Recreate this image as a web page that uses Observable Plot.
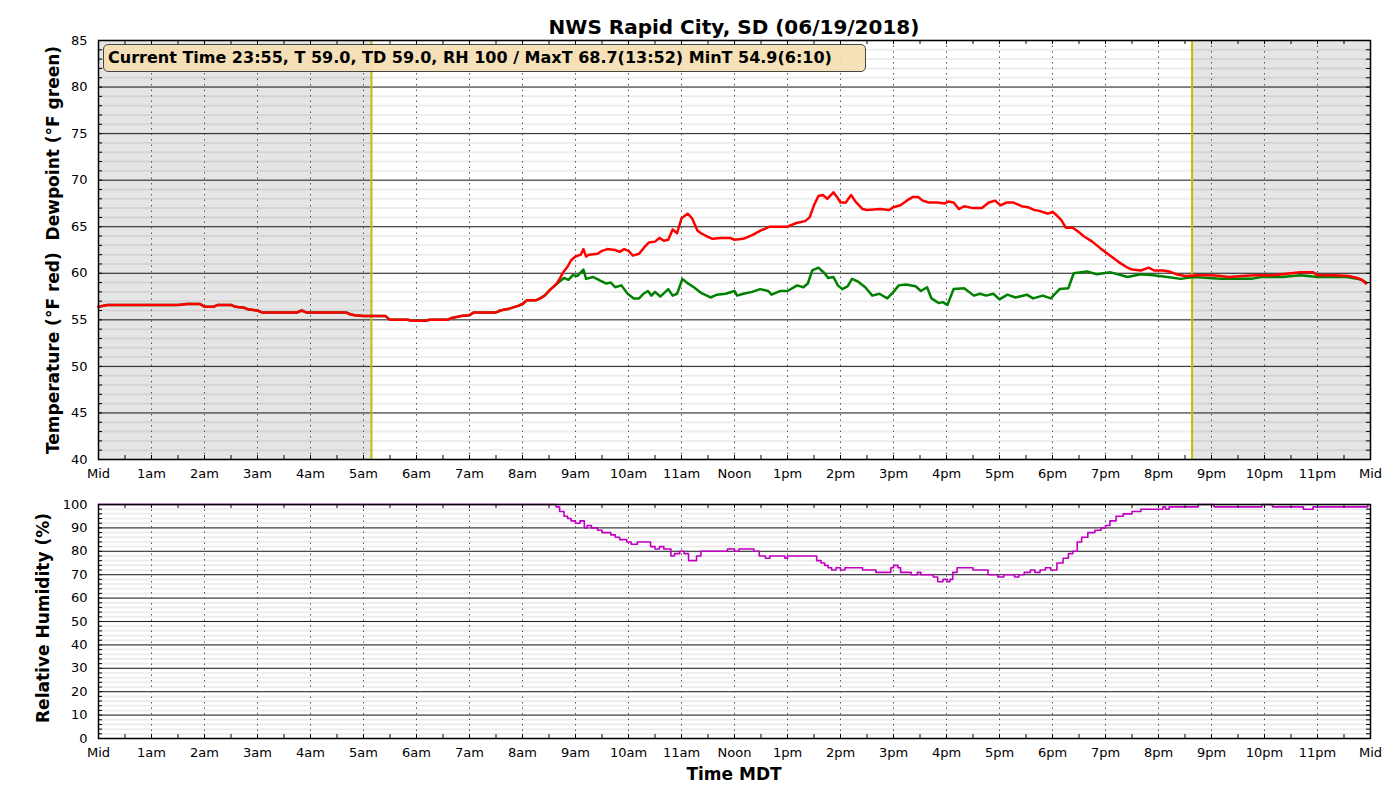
<!DOCTYPE html>
<html><head><meta charset="utf-8">
<script src="https://cdn.jsdelivr.net/npm/d3@7"></script>
<script src="https://cdn.jsdelivr.net/npm/@observablehq/plot@0.6"></script>
<style>
body{margin:0;background:#fff;font-family:"DejaVu Sans",sans-serif;}
#wrap{position:relative;width:1400px;height:800px;overflow:hidden;}
.abs{position:absolute;}
.title{left:98px;width:1272px;top:15px;text-align:center;font-weight:bold;font-size:20px;line-height:24px;}
.ylab{font-weight:bold;font-size:17px;white-space:pre;transform:translate(-50%,-50%) rotate(-90deg);}
.xlab{left:98px;width:1272px;top:764px;text-align:center;font-weight:bold;font-size:17px;}
.note{left:103px;top:44px;width:763px;height:28px;box-sizing:border-box;background:rgba(245,222,179,0.92);border:1.3px solid #444;border-radius:5px;font-weight:bold;font-size:16px;line-height:25px;padding-left:4px;white-space:nowrap;}
</style></head><body><div id="wrap"></div><script>
const hourLabels = ["Mid","1am","2am","3am","4am","5am","6am","7am","8am","9am","10am","11am","Noon","1pm","2pm","3pm","4pm","5pm","6pm","7pm","8pm","9pm","10pm","11pm","Mid"];
const sunrise = "05:09", sunset = "20:38";
const titleText = "NWS Rapid City, SD (06/19/2018)";
const noteText = "Current Time 23:55, T 59.0, TD 59.0, RH 100 / MaxT 68.7(13:52) MinT 54.9(6:10)";

const temperature = [
["00:00",56.4],["00:10",56.6],["00:30",56.6],["01:00",56.6],["01:30",56.6],["01:40",56.7],["01:55",56.7],["02:00",56.4],["02:10",56.4],["02:15",56.6],["02:30",56.6],["02:35",56.4],["02:45",56.3],["02:50",56.1],["03:00",56.0],["03:05",55.8],["03:30",55.8],["03:45",55.8],["03:50",56.0],["03:55",55.8],["04:30",55.8],["04:40",55.8],["04:45",55.6],["04:50",55.5],["05:00",55.4],["05:25",55.4],["05:30",55.0],["05:50",55.0],["05:55",54.9],["06:10",54.9],["06:15",55.0],["06:35",55.0],["06:40",55.2],["06:50",55.4],["07:00",55.5],["07:05",55.8],["07:30",55.8],["07:35",56.0],["07:40",56.1],["07:45",56.2],["07:55",56.5],["08:00",56.7],["08:05",57.1],["08:15",57.1],["08:20",57.3],["08:25",57.6],["08:32",58.3],
["08:38",58.8],["08:42",59.4],["08:46",60.1],["08:51",60.7],["08:55",61.4],["09:00",61.8],["09:06",62.0],["09:09",62.6],["09:12",61.8],["09:15",62.0],["09:25",62.1],["09:30",62.4],["09:36",62.6],["09:45",62.5],["09:50",62.3],["09:55",62.6],["10:00",62.4],["10:05",61.9],["10:12",62.1],["10:18",62.8],["10:23",63.3],["10:30",63.4],["10:35",63.8],["10:40",63.5],["10:45",63.6],["10:50",64.7],["10:55",64.3],["11:00",65.9],["11:07",66.4],["11:12",65.9],["11:18",64.6],["11:22",64.3],["11:30",63.9],["11:35",63.7],["11:45",63.8],["11:55",63.8],["12:00",63.6],["12:10",63.7],["12:20",64.1],["12:30",64.6],["12:40",65.0],["12:50",65.0],["13:00",65.0],["13:10",65.4],["13:20",65.6],["13:25",66.0],["13:30",67.3],["13:35",68.3],["13:40",68.4],["13:45",68.0],["13:52",68.7],["13:56",68.2],["14:00",67.6],["14:06",67.6],["14:12",68.4],["14:17",67.7],["14:25",66.9],["14:30",66.8],["14:45",66.9],["14:55",66.8],["15:00",67.1],["15:08",67.3],["15:15",67.8],["15:22",68.2],["15:28",68.2],["15:33",67.8],["15:40",67.6],["15:50",67.6],["15:58",67.5],["16:02",67.7],["16:08",67.6],["16:14",66.9],["16:20",67.2],["16:30",67.0],["16:40",67.0],["16:48",67.6],["16:55",67.8],["17:01",67.3],["17:08",67.6],["17:16",67.6],["17:25",67.2],["17:32",67.1],["17:39",66.8],["17:45",66.7],["17:55",66.4],["18:00",66.6],["18:05",66.2],["18:10",65.7],["18:15",64.9],["18:23",64.9],["18:30",64.4],["18:35",64.0],["18:45",63.4],["18:54",62.7],["19:05",61.9],["19:15",61.2],["19:25",60.6],["19:30",60.4],["19:40",60.3],["19:49",60.6],["19:55",60.3],["20:05",60.3],["20:12",60.2],["20:20",59.9],["20:30",59.7],["20:45",59.8],["21:00",59.8],["21:10",59.7],["21:20",59.6],["21:35",59.7],["21:50",59.8],["22:10",59.8],["22:30",60.0],["22:41",60.1],["22:55",60.1],["23:00",59.8],["23:20",59.8],["23:35",59.7],["23:45",59.5],["23:50",59.3],["23:55",58.9]
];

const dewpoint = [
["00:00",56.4],["00:10",56.6],["00:30",56.6],["01:00",56.6],["01:30",56.6],["01:40",56.7],["01:55",56.7],["02:00",56.4],["02:10",56.4],["02:15",56.6],["02:30",56.6],["02:35",56.4],["02:45",56.3],["02:50",56.1],["03:00",56.0],["03:05",55.8],["03:30",55.8],["03:45",55.8],["03:50",56.0],["03:55",55.8],["04:30",55.8],["04:40",55.8],["04:45",55.6],["04:50",55.5],["05:00",55.4],["05:25",55.4],["05:30",55.0],["05:50",55.0],["05:55",54.9],["06:10",54.9],["06:15",55.0],["06:35",55.0],["06:40",55.2],["06:50",55.4],["07:00",55.5],["07:05",55.8],["07:30",55.8],["07:35",56.0],["07:40",56.1],["07:45",56.2],["07:55",56.5],["08:00",56.7],["08:05",57.1],["08:15",57.1],["08:20",57.3],["08:25",57.6],["08:32",58.3],
["08:38",58.8],["08:43",59.2],["08:47",59.5],["08:52",59.3],["08:57",59.8],["09:02",59.7],["09:09",60.4],["09:12",59.4],["09:20",59.6],["09:28",59.2],["09:35",58.9],["09:40",59.0],["09:45",58.5],["09:52",58.7],["09:59",57.8],["10:06",57.3],["10:12",57.3],["10:17",57.8],["10:22",58.1],["10:26",57.6],["10:30",58.0],["10:36",57.5],["10:45",58.3],["10:50",57.6],["10:55",57.8],["11:01",59.4],["11:06",59.0],["11:14",58.5],["11:22",57.9],["11:33",57.4],["11:40",57.7],["11:50",57.8],["12:00",58.1],["12:03",57.6],["12:10",57.8],["12:20",58.0],["12:29",58.3],["12:38",58.1],["12:42",57.7],["12:52",58.1],["13:00",58.1],["13:11",58.7],["13:18",58.5],["13:23",58.9],["13:28",60.3],["13:35",60.6],["13:42",60.0],["13:46",59.5],["13:52",59.6],["13:57",58.7],["14:02",58.3],["14:08",58.6],["14:13",59.4],["14:20",59.1],["14:28",58.5],["14:36",57.6],["14:44",57.8],["14:53",57.3],["15:00",58.0],["15:06",58.7],["15:14",58.8],["15:25",58.6],["15:31",58.1],["15:38",58.5],["15:43",57.3],["15:51",56.8],["15:56",56.9],["16:01",56.6],["16:08",58.3],["16:20",58.4],["16:31",57.6],["16:38",57.8],["16:45",57.6],["16:53",57.8],["17:00",57.2],["17:09",57.7],["17:18",57.4],["17:31",57.7],["17:38",57.3],["17:49",57.6],["17:58",57.3],["18:08",58.3],["18:18",58.4],["18:24",60.0],["18:39",60.2],["18:50",59.9],["19:06",60.1],["19:25",59.6],["19:40",59.9],["19:54",59.8],["20:10",59.6],["20:25",59.4],["20:40",59.6],["21:10",59.4],["21:45",59.4],["21:56",59.6],["22:20",59.6],["22:41",59.8],["23:00",59.6],["23:33",59.6],["23:45",59.4],["23:50",59.3],["23:55",59.0]
];

const humidity = [
["00:00",100],["08:35",100],["08:38",99],["08:42",97],["08:47",95],["08:51",94],["08:55",93],["09:00",92],["09:05",93],["09:10",90],["09:13",91],["09:18",90],["09:25",89],["09:30",88],["09:40",87],["09:45",86],["09:50",85],["09:58",84],["10:03",83],["10:10",84],["10:20",84],["10:25",82],["10:30",81],["10:35",82],["10:40",81],["10:45",81],["10:48",78],["10:52",79],["10:58",80],["11:03",79],["11:08",76],["11:12",76],["11:17",78],["11:22",80],["11:30",80],["11:50",80],["11:52",81],["11:58",81],["12:00",80],["12:05",81],["12:15",81],["12:22",80],["12:28",78],["12:35",77],["12:40",78],["12:55",78],["12:57",77],["13:00",78],["13:30",78],["13:33",76],["13:38",75],["13:42",74],["13:46",73],["13:50",72],["13:55",73],["14:00",72],["14:05",73],["14:18",73],["14:25",72],["14:30",72],["14:40",71],["14:52",71],["14:57",73],["15:00",74],["15:05",73],["15:08",71],["15:15",71],["15:20",70],["15:27",71],["15:31",70],["15:40",70],["15:45",69],["15:50",67],["15:56",68],["16:01",67],["16:04",68],["16:07",71],["16:12",73],["16:25",73],["16:30",72],["16:42",72],["16:47",70],["16:58",69],["17:05",70],["17:12",70],["17:17",69],["17:22",70],["17:28",71],["17:35",72],["17:40",71],["17:46",72],["17:52",73],["17:58",72],["18:05",75],["18:12",77],["18:18",79],["18:23",80],["18:28",84],["18:33",86],["18:40",88],["18:48",89],["18:55",90],["19:00",91],["19:05",93],["19:12",95],["19:20",96],["19:30",97],["19:40",98],["20:00",98],["20:05",99],["20:08",98],["20:12",99],["20:30",99],["20:45",100],["21:03",99],["21:55",99],["21:57",100],["22:09",99],["22:44",98],["22:55",99],["23:55",99],["23:57",100]
];

const hrs = s => { const [h, m] = s.split(":").map(Number); return h + m / 60; };
const toRows = arr => arr.map(([t, v]) => ({x: hrs(t), v}));
const tRows = toRows(temperature), dRows = toRows(dewpoint), rhRows = toRows(humidity);
const nights = [{a: 0, b: hrs(sunrise)}, {a: hrs(sunset), b: 24}];
const hours = d3.range(0, 25);
const halfHours = d3.range(0, 24.01, 0.5);
const FW = 1272; // frame width in px
const wrap = document.getElementById("wrap");

function addDiv(cls, text, style) {
  const d = document.createElement("div");
  d.className = "abs " + cls; d.textContent = text;
  if (style) Object.assign(d.style, style);
  wrap.appendChild(d); return d;
}

const common = {fontFamily: "DejaVu Sans", fontSize: "13px", color: "#000", background: "transparent", overflow: "visible"};

// ---------- Top panel ----------
const FH1 = 419;
const topChart = Plot.plot({
  width: 1400, height: 500,
  marginLeft: 98, marginRight: 30, marginTop: 40, marginBottom: 41,
  style: common,
  x: {domain: [0, 24]},
  y: {domain: [40, 85]},
  marks: [
    Plot.rect(nights, {x1: "a", x2: "b", fill: "#e5e5e5"}),
    Plot.ruleY(d3.range(40, 86, 1), {stroke: "#000", strokeOpacity: 0.07, strokeWidth: 2}),
    Plot.ruleY(d3.range(40, 86, 5), {stroke: "#222", strokeWidth: 1}),
    Plot.ruleX(d3.range(1, 24), {stroke: "#555", strokeWidth: 1, strokeDasharray: "1.5,4"}),
    Plot.ruleX([hrs(sunrise), hrs(sunset)], {stroke: "#bfbf00", strokeWidth: 2}),
    Plot.line(dRows, {x: "x", y: "v", stroke: "#008000", strokeWidth: 2.5}),
    Plot.line(tRows, {x: "x", y: "v", stroke: "#ff0000", strokeWidth: 2.5}),
    Plot.tickY(d3.range(40, 86, 1), {y: d => d, insetRight: FW - 4, stroke: "#000"}),
    Plot.tickY(d3.range(40, 86, 1), {y: d => d, insetLeft: FW - 4, stroke: "#000"}),
    Plot.tickX(halfHours, {x: d => d, insetTop: FH1 - 4, stroke: "#000"}),
    Plot.tickX(halfHours, {x: d => d, insetBottom: FH1 - 4, stroke: "#000"}),
    Plot.frame({stroke: "#000", strokeWidth: 1.5}),
    Plot.axisY({ticks: d3.range(40, 86, 5), tickSize: 0, tickPadding: 11, label: null}),
    Plot.axisX({ticks: hours, tickFormat: i => hourLabels[i], tickSize: 0, tickPadding: 9, label: null})
  ]
});
topChart.style.position = "absolute"; topChart.style.left = "0px"; topChart.style.top = "0px";
wrap.appendChild(topChart);

// ---------- Bottom panel ----------
const FH2 = 234;
const bottomChart = Plot.plot({
  width: 1400, height: 310,
  marginLeft: 98, marginRight: 30, marginTop: 14, marginBottom: 62,
  style: common,
  x: {domain: [0, 24]},
  y: {domain: [0, 100]},
  marks: [
    Plot.ruleY(d3.range(0, 101, 2), {stroke: "#000", strokeOpacity: 0.07, strokeWidth: 2}),
    Plot.ruleY(d3.range(0, 101, 10), {stroke: "#222", strokeWidth: 1}),
    Plot.ruleX(d3.range(1, 24), {stroke: "#555", strokeWidth: 1, strokeDasharray: "1.5,4"}),
    Plot.line(rhRows, {x: "x", y: "v", stroke: "#c000c0", strokeWidth: 1.6, curve: "step-after"}),
    Plot.tickY(d3.range(0, 101, 2), {y: d => d, insetRight: FW - 4, stroke: "#000"}),
    Plot.tickY(d3.range(0, 101, 2), {y: d => d, insetLeft: FW - 4, stroke: "#000"}),
    Plot.tickX(halfHours, {x: d => d, insetTop: FH2 - 4, stroke: "#000"}),
    Plot.tickX(halfHours, {x: d => d, insetBottom: FH2 - 4, stroke: "#000"}),
    Plot.frame({stroke: "#000", strokeWidth: 1.5}),
    Plot.axisY({ticks: d3.range(0, 101, 10), tickSize: 0, tickPadding: 11, label: null}),
    Plot.axisX({ticks: hours, tickFormat: i => hourLabels[i], tickSize: 0, tickPadding: 9, label: null})
  ]
});
bottomChart.style.position = "absolute"; bottomChart.style.left = "0px"; bottomChart.style.top = "490px";
wrap.appendChild(bottomChart);

addDiv("title", titleText);
addDiv("note", noteText);
addDiv("ylab", "Temperature (°F red)  Dewpoint (°F green)", {left: "53px", top: "250px"});
addDiv("ylab", "Relative Humidity (%)", {left: "43px", top: "618px"});
addDiv("xlab", "Time MDT");
</script></body></html>
